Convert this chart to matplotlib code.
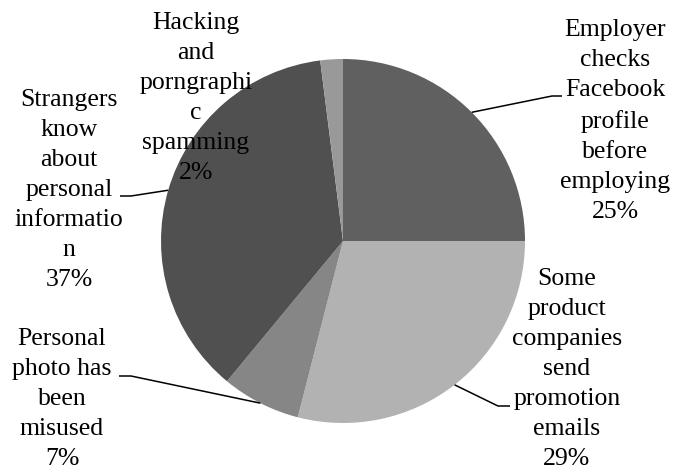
import numpy as np
import matplotlib.pyplot as plt

labels = ['Employer\nchecks\nFacebook\nprofile\nbefore\nemploying',
          'Some\nproduct\ncompanies\nsend\npromotion\nemails',
          'Personal\nphoto has\nbeen\nmisused',
          'Strangers\nknow\nabout\npersonal\ninformatio\nn',
          'Hacking\nand\nporngraphi\nc\nspamming']
shares = [25, 29, 7, 37, 2]
colors = ['#606060', '#b2b2b2', '#868686', '#505050', '#999999']

W, H = 686, 473
plt.rcParams['font.family'] = ['Liberation Serif', 'DejaVu Serif']

fig = plt.figure(figsize=(W / 100, H / 100), dpi=100)
ax = fig.add_axes([0, 0, 1, 1])

cx, cy, r = 343, H - 241, 182
wedges, _ = ax.pie(shares, colors=colors, startangle=90, counterclock=False,
                   center=(cx, cy), radius=r, wedgeprops=dict(linewidth=0))
ax.set_xlim(0, W)
ax.set_ylim(0, H)
ax.set_aspect('equal')
ax.axis('off')

# label centres and leader elbows, in pixels from the top-left corner
label_pos = [(615, 121), (567, 369), (62, 399), (69, 190), (196, 98)]
elbows = [[(552, 96), (562, 96)],
          [(498, 406), (510, 406)],
          [(131, 376), (119, 376)],
          [(131, 196), (120, 196)],
          None]

for w, lab, share, (tx, ty), elb in zip(wedges, labels, shares, label_pos, elbows):
    ax.text(tx, H - ty, f'{lab}\n{share}%', ha='center', va='center',
            fontsize=18.5, linespacing=1.47, color='black', zorder=5)
    if elb is None:
        continue
    mid = np.deg2rad((w.theta1 + w.theta2) / 2)
    xs = [cx + r * np.cos(mid)] + [p[0] for p in elb]
    ys = [cy + r * np.sin(mid)] + [H - p[1] for p in elb]
    ax.plot(xs, ys, color='black', lw=1.1, solid_capstyle='butt', zorder=4)

fig.savefig('out.png', dpi=100)
